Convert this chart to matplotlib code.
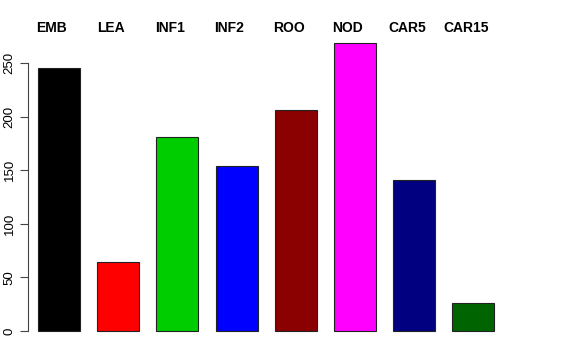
import matplotlib
matplotlib.use("Agg")
import matplotlib.pyplot as plt

names = ["EMB", "LEA", "INF1", "INF2", "ROO", "NOD", "CAR5", "CAR15"]
counts = [245, 64, 181, 154, 206, 269, 141, 26]
colors = ["#000000", "#FF0000", "#00CD00", "#0000FF", "#8B0000", "#FF00FF", "#000080", "#006400"]

plt.rcParams["font.family"] = ["Liberation Sans", "DejaVu Sans"]

fig = plt.figure(figsize=(5.76, 3.6), dpi=100)
# axes placed to mimic R plot region
ax = fig.add_axes([28 / 576, (360 - 341.7) / 360, (504 - 28) / 576, (341.7 - 30.8) / 360])

xs = [i * 1.41 for i in range(len(names))]
ax.bar(xs, counts, width=1.0, color=colors, edgecolor="#222222", linewidth=0.8)

ax.set_xlim(-0.738, 10.6)
ax.set_ylim(-10, 280)

for s in ["top", "right", "bottom"]:
    ax.spines[s].set_visible(False)
ax.spines["left"].set_bounds(0, 250)
ax.spines["left"].set_color("#444444")
ax.set_xticks([])
ax.set_yticks([0, 50, 100, 150, 200, 250])
ax.tick_params(axis="y", length=6, width=0.8, color="#444444", labelsize=9.5, pad=3)
for lab in ax.get_yticklabels():
    lab.set_rotation(90)
    lab.set_verticalalignment("center")

for x, n in zip(xs, names):
    ax.text(x - 0.17, 282.6, n, ha="center", va="center", fontsize=10,
            fontweight="bold", clip_on=False)

fig.savefig("out.png", dpi=100)
